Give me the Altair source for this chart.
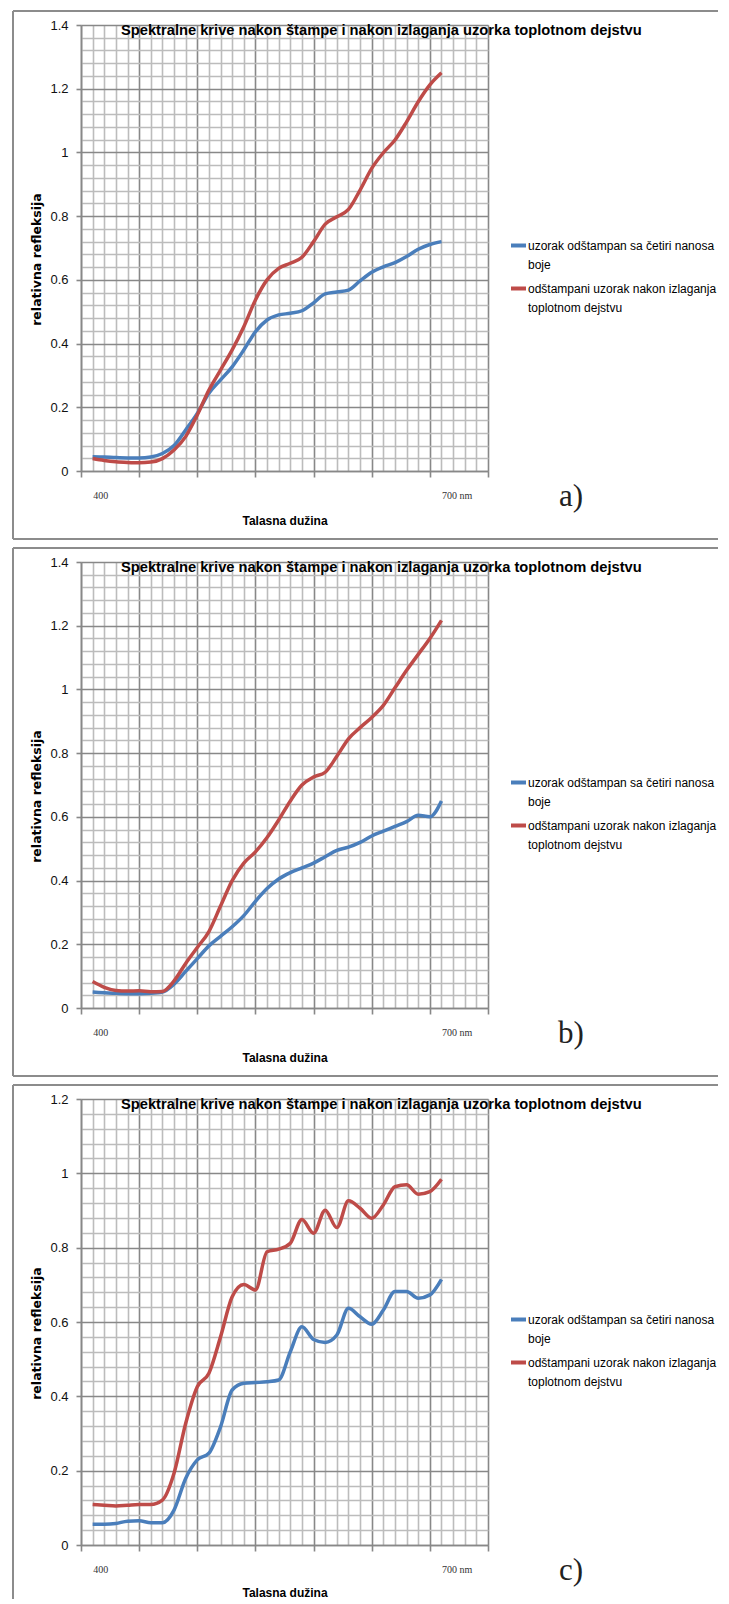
import altair as alt
import pandas as pd

# ---------------- data ----------------
wavelengths = list(range(400, 701, 10))

series_names = [
    "uzorak odštampan sa četiri nanosa boje",
    "odštampani uzorak nakon izlaganja toplotnom dejstvu",
]
legend_lines = [
    ["uzorak odštampan sa četiri nanosa", "boje"],
    ["odštampani uzorak nakon izlaganja", "toplotnom dejstvu"],
]
series_colors = ["#4A7EBB", "#BE4B48"]

a_blue = [0.045, 0.044, 0.042, 0.041, 0.041, 0.044, 0.055, 0.080, 0.129, 0.181,
          0.244, 0.286, 0.327, 0.380, 0.437, 0.474, 0.490, 0.495, 0.503, 0.528,
          0.556, 0.562, 0.568, 0.597, 0.624, 0.641, 0.654, 0.673, 0.696, 0.711, 0.720]
a_red = [0.039, 0.033, 0.029, 0.027, 0.026, 0.028, 0.039, 0.066, 0.108, 0.176,
         0.254, 0.317, 0.380, 0.453, 0.537, 0.600, 0.636, 0.652, 0.671, 0.720,
         0.775, 0.798, 0.821, 0.882, 0.950, 0.999, 1.039, 1.096, 1.159, 1.212, 1.250]

b_blue = [0.050, 0.048, 0.046, 0.045, 0.045, 0.046, 0.050, 0.075, 0.115, 0.155,
          0.195, 0.225, 0.255, 0.290, 0.335, 0.375, 0.405, 0.425, 0.440, 0.455,
          0.475, 0.495, 0.505, 0.520, 0.540, 0.555, 0.570, 0.585, 0.605, 0.600, 0.650]
b_red = [0.083, 0.065, 0.055, 0.053, 0.054, 0.051, 0.052, 0.085, 0.140, 0.190,
         0.240, 0.320, 0.400, 0.455, 0.490, 0.535, 0.590, 0.650, 0.700, 0.725,
         0.740, 0.790, 0.845, 0.880, 0.912, 0.950, 1.005, 1.060, 1.110, 1.160, 1.217]

c_blue = [0.056, 0.056, 0.058, 0.064, 0.065, 0.060, 0.060, 0.094, 0.179, 0.229,
          0.247, 0.318, 0.417, 0.435, 0.437, 0.439, 0.444, 0.520, 0.587, 0.553,
          0.545, 0.565, 0.637, 0.614, 0.594, 0.632, 0.682, 0.682, 0.664, 0.673, 0.715]
c_red = [0.109, 0.107, 0.105, 0.107, 0.109, 0.109, 0.121, 0.193, 0.327, 0.426,
         0.462, 0.560, 0.668, 0.701, 0.686, 0.789, 0.796, 0.812, 0.876, 0.839,
         0.901, 0.854, 0.926, 0.906, 0.879, 0.915, 0.964, 0.969, 0.944, 0.951, 0.984]

panel_letters = ["a)", "b)", "c)"]
panel_ymax = [1.4, 1.4, 1.2]

title_text = "Spektralne krive nakon štampe i nakon izlaganja uzorka toplotnom dejstvu"
x_title = "Talasna dužina"
y_title = "relativna refleksija"
x_domain = [390, 740]
x_label_400 = "400"
x_label_700 = "700 nm"

# ---------------- style ----------------
SANS = "Liberation Sans, Arial, sans-serif"
WIDE = "DejaVu Sans, Liberation Sans, sans-serif"
SERIF = "Liberation Serif, serif"
MAJOR = "#888888"
MINOR = "#bcbcbc"
FRAME = "#8c8c8c"
PW, PH = 407, 446

x_major = "(datum.value - 390) % 50 == 0"
y_major = "abs(datum.value * 5 - round(datum.value * 5)) < 0.001"

legend_expr = (
    f"datum.label == '{series_names[0]}' ? "
    f"['{legend_lines[0][0]}', '{legend_lines[0][1]}'] : "
    f"['{legend_lines[1][0]}', '{legend_lines[1][1]}']"
)

ONE = alt.Data(values=[{"f": 1}])


def frame_rule(**enc):
    return alt.Chart(ONE).mark_rule(stroke=FRAME, strokeWidth=2).encode(**enc)


def panel(blue, red, ymax, letter, frame_bottom, closed, xtitle_pad):
    df = pd.DataFrame({
        "wl": wavelengths + wavelengths,
        "val": blue + red,
        "series": [series_names[0]] * len(wavelengths) + [series_names[1]] * len(wavelengths),
    })
    xvals = list(range(x_domain[0], x_domain[1] + 1, 10))
    yvals = [round(i * 0.04, 2) for i in range(int(round(ymax / 0.04)) + 1)]

    xaxis = alt.Axis(
        values=xvals, title=x_title, grid=True,
        gridColor={"condition": {"test": x_major, "value": MAJOR}, "value": MINOR},
        gridWidth=1.6,
        tickOpacity={"condition": {"test": x_major, "value": 1}, "value": 0},
        tickSize=6, tickColor=MAJOR, tickWidth=1.6,
        domainColor=MAJOR, domainWidth=1.6,
        labelExpr=f"datum.value == 400 ? '{x_label_400}' : datum.value == 700 ? '{x_label_700}' : ''",
        labelFont=SERIF, labelFontSize=10, labelColor="#333333",
        labelAlign="left", labelPadding=13, labelOverlap=False, labelFlush=False,
        titleFont=SANS, titleFontSize=12, titleFontWeight="bold", titleColor="#000000",
        titlePadding=xtitle_pad,
    )
    yaxis = alt.Axis(
        values=yvals, title=y_title, grid=True,
        gridColor={"condition": {"test": y_major, "value": MAJOR}, "value": MINOR},
        gridWidth=1.6,
        tickOpacity={"condition": {"test": y_major, "value": 1}, "value": 0},
        tickSize=5, tickColor=MAJOR, tickWidth=1.6,
        domainColor=MAJOR, domainWidth=1.6,
        labelExpr=f"{y_major} ? format(datum.value, '~g') : ''",
        labelFont=SANS, labelFontSize=13, labelColor="#111111",
        labelPadding=8, labelOverlap=False,
        titleFont=WIDE, titleFontSize=12.5, titleFontWeight="bold", titleColor="#000000",
        titleX=-45, titleY=234, titleAlign="center", titleBaseline="middle", titleAngle=270,
    )
    legend = alt.Legend(
        title=None, orient="none", legendX=428, legendY=211, padding=0,
        symbolType="stroke", symbolSize=225, symbolStrokeWidth=4,
        labelFont=SANS, labelFontSize=12, labelColor="#000000",
        labelExpr=legend_expr, labelBaseline="middle", labelOffset=0,
        labelLimit=400, rowPadding=8,
    )

    lines = alt.Chart(df).mark_line(interpolate="monotone", strokeWidth=3.5).encode(
        x=alt.X("wl:Q", scale=alt.Scale(domain=x_domain, nice=False, zero=False), axis=xaxis),
        y=alt.Y("val:Q", scale=alt.Scale(domain=[0, ymax], nice=False), axis=yaxis),
        color=alt.Color("series:N", scale=alt.Scale(domain=series_names, range=series_colors),
                        legend=legend),
    )

    fx0, fx1, fy0, fy1 = -68, PW + 230, -14, PH + frame_bottom
    layers = [
        frame_rule(x=alt.value(fx0), x2=alt.value(fx1), y=alt.value(fy0)),
        frame_rule(x=alt.value(fx0), y=alt.value(fy0), y2=alt.value(fy1)),
    ]
    if closed:
        layers.append(frame_rule(x=alt.value(fx0), x2=alt.value(fx1), y=alt.value(fy1)))

    heading = alt.Chart(alt.Data(values=[{"t": title_text}])).mark_text(
        font=SANS, fontSize=14.7, fontWeight="bold", align="left", baseline="alphabetic",
        color="#000000"
    ).encode(text="t:N", x=alt.value(40), y=alt.value(10))

    tag = alt.Chart(alt.Data(values=[{"t": letter}])).mark_text(
        font=SERIF, fontSize=31, align="center", baseline="middle", color="#222222"
    ).encode(text="t:N", x=alt.value(490), y=alt.value(PH + 26))

    layers += [lines, heading, tag]
    return alt.layer(*layers).properties(width=PW, height=PH)


chart = alt.vconcat(
    panel(a_blue, a_red, panel_ymax[0], panel_letters[0], 68, True, 15),
    panel(b_blue, b_red, panel_ymax[1], panel_letters[1], 68, True, 15),
    panel(c_blue, c_red, panel_ymax[2], panel_letters[2], 54, False, 13),
    spacing=5,
).resolve_scale(color="independent").resolve_legend(color="independent").properties(
    padding={"left": 3, "top": 1, "right": 0, "bottom": 0}
).configure_view(stroke="transparent").configure(
    style={"guide-label": {"lineHeight": 19}}
)

chart.save("out.html", embed_options={"renderer": "svg", "actions": False})
